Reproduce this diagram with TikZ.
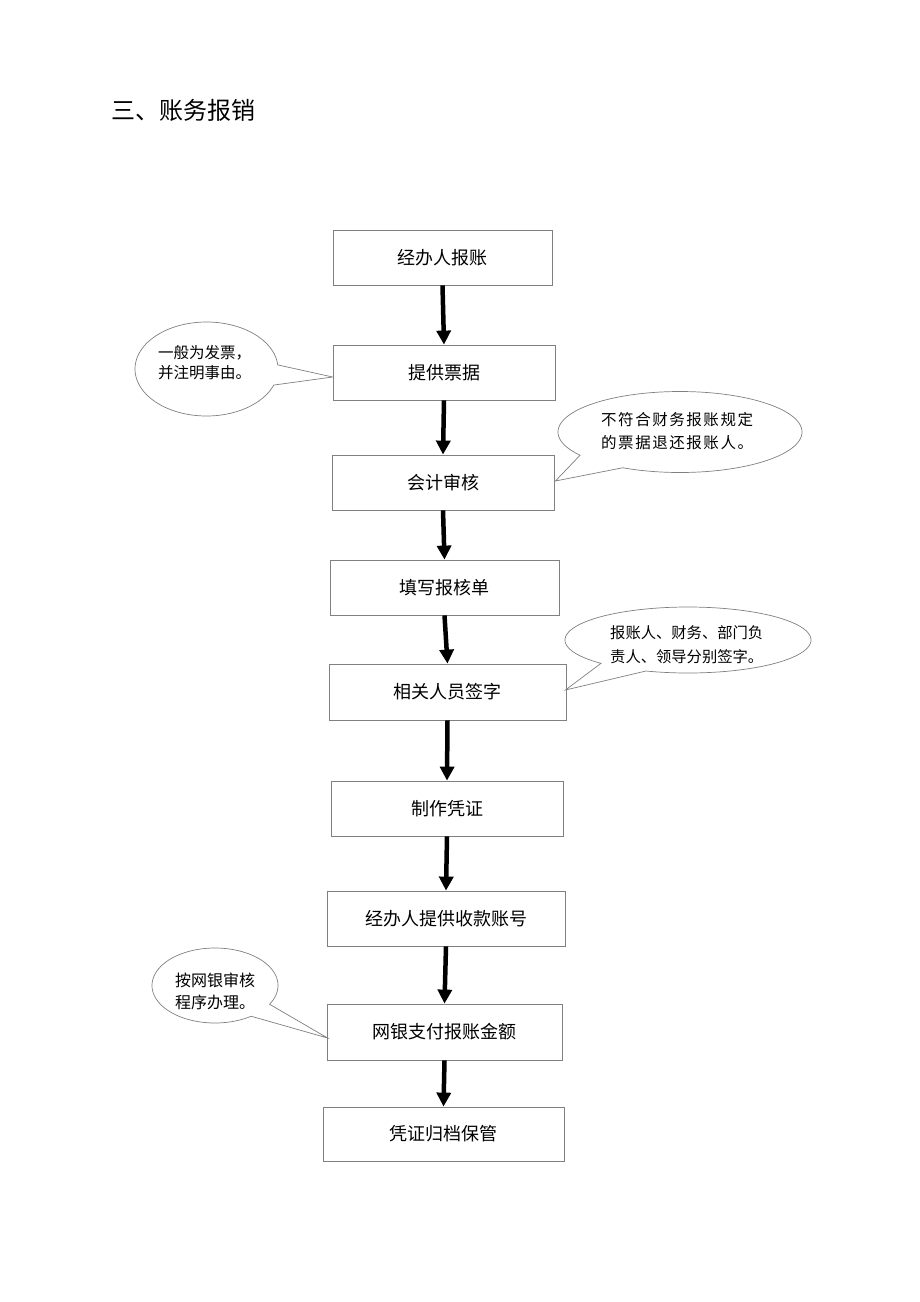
\documentclass[tikz,border=0pt]{standalone}
\usepackage{fontspec}
\setmainfont{Noto Sans CJK SC}
\newfontfamily\cjk{Noto Sans CJK SC}
\usetikzlibrary{arrows.meta,calc}
\definecolor{edgegray}{HTML}{808080}
\tikzset{
  stepbox/.style={draw=edgegray, line width=0.8pt, inner sep=0pt, font=\cjk\fontsize{18}{20}\selectfont},
  flow/.style={line width=4.5pt, -{Triangle[length=14pt,width=14pt]}},
  callout/.style={draw=edgegray, line width=0.7pt, fill=white},
  calltext/.style={inner sep=0pt, align=left, anchor=west},
}
\begin{document}
\begin{tikzpicture}[x=1pt,y=-1pt]
\path[use as bounding box, fill=white] (0,0) rectangle (920,1302);
\node[anchor=west, inner sep=0pt, font=\cjk\fontsize{24}{26}\selectfont] (title) at (111,110) {三、账务报销};

\node[stepbox, minimum width=219pt, minimum height=55pt] (b1) at (442.5,257.5) {经办人报账};
\node[stepbox, minimum width=222pt, minimum height=55pt] (b2) at (444,372.5) {提供票据};
\node[stepbox, minimum width=222pt, minimum height=55pt] (b3) at (443,482.5) {会计审核};
\node[stepbox, minimum width=229pt, minimum height=55pt] (b4) at (444.5,587.5) {填写报核单};
\node[stepbox, minimum width=237pt, minimum height=56pt] (b5) at (447.5,692) {相关人员签字};
\node[stepbox, minimum width=232pt, minimum height=55pt] (b6) at (447,808.5) {制作凭证};
\node[stepbox, minimum width=238pt, minimum height=55pt] (b7) at (446,918.5) {经办人提供收款账号};
\node[stepbox, minimum width=235pt, minimum height=56pt] (b8) at (444.5,1032) {网银支付报账金额};
\node[stepbox, minimum width=241pt, minimum height=54pt] (b9) at (443.5,1134) {凭证归档保管};

\draw[flow] (b1.south) -- (b2.north);
\draw[flow] (b2.south) -- (b3.north);
\draw[flow] (b3.south) -- (b4.north);
\draw[flow] (b4.south) -- (b5.north);
\draw[flow] (b5.south) -- (b6.north);
\draw[flow] (b6.south) -- (b7.north);
\draw[flow] (b7.south) -- (b8.north);
\draw[flow] (b8.south) -- (b9.north);

% callout tips
\coordinate (t1) at ($(b2.west)+(0,4.5)$);
\coordinate (t2) at ($(b3.east)+(1,-1.5)$);
\coordinate (t3) at ($(b5.east)+(-1,-2)$);
\coordinate (t4) at ($(b8.west)+(1,6)$);

\draw[callout] plot[domain=20:355, samples=120] ({206.5+71.5*cos(\x)},{369+47*sin(\x)}) -- (t1) -- cycle;
\draw[callout] plot[domain=145:478, samples=160] ({680+122*cos(\x)},{432+40.5*sin(\x)}) -- (t2) -- cycle;
\draw[callout] plot[domain=135:470, samples=160] ({688+123*cos(\x)},{640+33*sin(\x)}) -- (t3) -- cycle;
\draw[callout] plot[domain=55:390, samples=120] ({215+63*cos(\x)},{985.5+37.5*sin(\x)}) -- (t4) -- cycle;

\node[calltext, font=\cjk\fontsize{15.5}{20}\selectfont] (c1) at (158,362.5) {一般为发票，\\并注明事由。};
\node[calltext, font=\cjk\fontsize{15.5}{23}\selectfont\addfontfeature{LetterSpace=10}] (c2) at (601,431.5) {不符合财务报账规定\\的票据退还报账人。};
\node[calltext, font=\cjk\fontsize{15.3}{24}\selectfont] (c3) at (610,645) {报账人、财务、部门负\\责人、领导分别签字。};
\node[calltext, font=\cjk\fontsize{16}{22}\selectfont] (c4) at (175,991) {按网银审核\\程序办理。};
\end{tikzpicture}
\end{document}
